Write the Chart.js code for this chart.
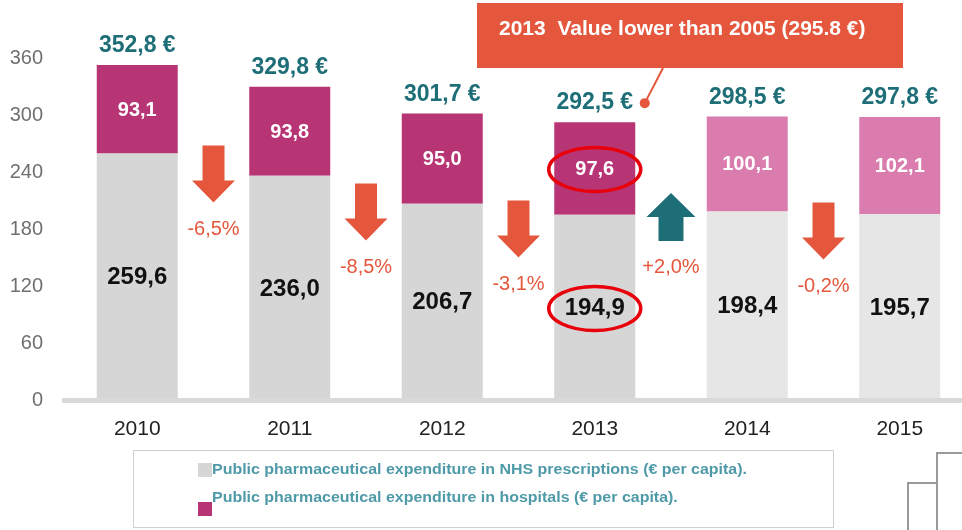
<!DOCTYPE html>
<html>
<head>
<meta charset="utf-8">
<script src="https://cdn.jsdelivr.net/npm/chart.js@4"></script>
<style>
  html, body { margin: 0; padding: 0; background: #fff; overflow: hidden; }
  #wrap { width: 962px; height: 530px; overflow: hidden; }
</style>
</head>
<body>
<div id="wrap"><canvas id="chart" width="980" height="530"></canvas></div>
<script>
const years = ["2010", "2011", "2012", "2013", "2014", "2015"];
const nhsValues = [259.6, 236.0, 206.7, 194.9, 198.4, 195.7];
const hospitalValues = [93.1, 93.8, 95.0, 97.6, 100.1, 102.1];
const totalValues = [352.8, 329.8, 301.7, 292.5, 298.5, 297.8];
const changeValues = [-6.5, -8.5, -3.1, 2.0, -0.2];
// value on the y scale where each arrow begins
const arrowLevels = [268, 228, 210, 218, 208];
const legendLabels = [
  "Public pharmaceutical expenditure in NHS prescriptions (€ per capita).",
  "Public pharmaceutical expenditure in hospitals (€ per capita).",
];
const calloutText = "2013  Value lower than 2005 (295.8 €)";

const nhsColors = ["#d6d6d6", "#d6d6d6", "#d6d6d6", "#d6d6d6", "#e6e6e6", "#e6e6e6"];
const hospitalColors = ["#b73475", "#b73475", "#b73475", "#b73475", "#da7cae", "#da7cae"];
const FONT = "'Liberation Sans', Arial, sans-serif";
const ORANGE = "#e5573d";
const TEAL = "#1e6e78";

const fmt = (v) => v.toFixed(1).replace(".", ",");

function drawArrow(ctx, cx, top, up, color) {
  ctx.fillStyle = color;
  ctx.beginPath();
  if (up) {
    ctx.moveTo(cx, top);
    ctx.lineTo(cx + 24.5, top + 24);
    ctx.lineTo(cx + 12.5, top + 24);
    ctx.lineTo(cx + 12.5, top + 48);
    ctx.lineTo(cx - 12.5, top + 48);
    ctx.lineTo(cx - 12.5, top + 24);
    ctx.lineTo(cx - 24.5, top + 24);
  } else {
    ctx.moveTo(cx - 11, top);
    ctx.lineTo(cx + 11, top);
    ctx.lineTo(cx + 11, top + 35);
    ctx.lineTo(cx + 21.5, top + 35);
    ctx.lineTo(cx, top + 57);
    ctx.lineTo(cx - 21.5, top + 35);
    ctx.lineTo(cx - 11, top + 35);
  }
  ctx.closePath();
  ctx.fill();
}

const decorations = {
  id: "decorations",
  afterDatasetsDraw(chart) {
    const { ctx, chartArea, scales } = chart;
    const nhsMeta = chart.getDatasetMeta(0);
    const hospMeta = chart.getDatasetMeta(1);
    ctx.save();

    // axis line
    ctx.strokeStyle = "#d9d9d9";
    ctx.lineWidth = 5;
    ctx.beginPath();
    ctx.moveTo(chartArea.left + 1, chartArea.bottom + 0.5);
    ctx.lineTo(chartArea.right + 10, chartArea.bottom + 0.5);
    ctx.stroke();

    ctx.textAlign = "center";
    ctx.textBaseline = "middle";
    years.forEach((yr, i) => {
      const b = nhsMeta.data[i];
      const h = hospMeta.data[i];
      ctx.fillStyle = "#111";
      ctx.font = "bold 24px " + FONT;
      ctx.fillText(fmt(nhsValues[i]), b.x, (b.y + b.base) / 2 + 1);
      ctx.fillStyle = "#fff";
      ctx.font = "bold 20px " + FONT;
      ctx.fillText(fmt(hospitalValues[i]), h.x, (h.y + h.base) / 2 + 1);
      ctx.fillStyle = TEAL;
      ctx.font = "bold 23px " + FONT;
      ctx.fillText(fmt(totalValues[i]) + " €", h.x, h.y - 19);
    });

    // change arrows
    changeValues.forEach((v, i) => {
      const cx = (scales.x.getPixelForValue(i) + scales.x.getPixelForValue(i + 1)) / 2;
      const top = scales.y.getPixelForValue(arrowLevels[i]);
      const up = v > 0;
      drawArrow(ctx, cx, top, up, up ? TEAL : ORANGE);
      ctx.fillStyle = ORANGE;
      ctx.font = "20px " + FONT;
      ctx.fillText((up ? "+" : "") + fmt(v) + "%", cx, top + (up ? 75 : 84));
    });

    // highlight 2013
    const i13 = years.indexOf("2013");
    const b13 = nhsMeta.data[i13];
    const h13 = hospMeta.data[i13];
    ctx.strokeStyle = "#e8000b";
    ctx.lineWidth = 3.5;
    [(h13.y + h13.base) / 2, (b13.y + b13.base) / 2].forEach((cy) => {
      ctx.beginPath();
      ctx.ellipse(b13.x, cy + 1, 46, 22, 0, 0, Math.PI * 2);
      ctx.stroke();
    });

    // callout
    const dotX = h13.x + 50;
    const dotY = h13.y - 19;
    ctx.strokeStyle = ORANGE;
    ctx.lineWidth = 2;
    ctx.beginPath();
    ctx.moveTo(663, 68);
    ctx.lineTo(dotX, dotY);
    ctx.stroke();
    ctx.fillStyle = ORANGE;
    ctx.beginPath();
    ctx.arc(dotX, dotY, 5, 0, Math.PI * 2);
    ctx.fill();
    ctx.fillRect(477, 3, 426, 65);
    ctx.fillStyle = "#fff";
    ctx.font = "bold 21px " + FONT;
    ctx.textAlign = "left";
    ctx.fillText(calloutText, 499, 29);

    // legend
    ctx.strokeStyle = "#d0d0d0";
    ctx.lineWidth = 1;
    ctx.strokeRect(133.5, 450.5, 700, 77);
    ctx.fillStyle = nhsColors[0];
    ctx.fillRect(198, 463, 14, 14);
    ctx.fillStyle = hospitalColors[0];
    ctx.fillRect(198, 502, 14, 14);
    ctx.font = "bold 14px 'Liberation Sans Narrow', " + FONT;
    const scaleX = 535 / ctx.measureText(legendLabels[0]).width;
    ctx.fillStyle = "#4f9aa8";
    [470, 498].forEach((ty, k) => {
      ctx.save();
      ctx.translate(212, ty);
      ctx.scale(scaleX, 1);
      ctx.fillText(legendLabels[k], 0, 0);
      ctx.restore();
    });

    // frame corners bottom right
    ctx.strokeStyle = "#9a9a9a";
    ctx.lineWidth = 2;
    ctx.beginPath();
    ctx.moveTo(937, 530);
    ctx.lineTo(937, 453);
    ctx.lineTo(965, 453);
    ctx.moveTo(908, 530);
    ctx.lineTo(908, 483);
    ctx.lineTo(937, 483);
    ctx.stroke();

    ctx.restore();
  },
};

new Chart(document.getElementById("chart"), {
  type: "bar",
  data: {
    labels: years,
    datasets: [
      { label: legendLabels[0], data: nhsValues, backgroundColor: nhsColors },
      { label: legendLabels[1], data: hospitalValues, backgroundColor: hospitalColors },
    ],
  },
  options: {
    responsive: false,
    animation: false,
    layout: { padding: { top: 58, right: 4, left: 0, bottom: 0 } },
    datasets: { bar: { categoryPercentage: 1, barPercentage: 0.531 } },
    plugins: { legend: { display: false }, tooltip: { enabled: false } },
    scales: {
      x: {
        stacked: true,
        grid: { display: false, drawTicks: false },
        border: { display: false },
        ticks: { color: "#222", font: { family: FONT, size: 21 }, padding: 17 },
        afterFit: (s) => { s.height = 130; },
      },
      y: {
        stacked: true,
        min: 0,
        max: 360,
        grid: { display: false, drawTicks: false },
        border: { display: false },
        ticks: { stepSize: 60, color: "#707070", font: { family: FONT, size: 20 }, padding: 18 },
        afterFit: (s) => { s.width = 61; },
      },
    },
  },
  plugins: [decorations],
});
</script>
</body>
</html>
